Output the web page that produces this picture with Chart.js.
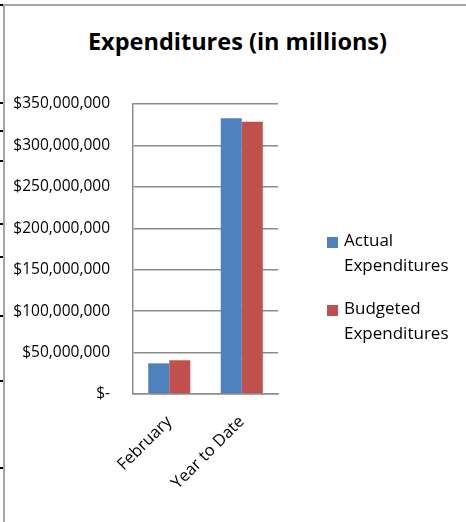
<!DOCTYPE html>
<html>
<head>
<meta charset="utf-8">
<script src="https://cdn.jsdelivr.net/npm/chart.js@4"></script>
<style>
  html, body { margin: 0; padding: 0; background: #fff; }
  #wrap { position: relative; width: 466px; height: 522px; overflow: hidden; font-family: "Open Sans", sans-serif; }
  #frame { position: absolute; left: 3px; top: 4px; width: 480px; height: 540px; border-left: 2px solid #a6a6a6; border-top: 2px solid #a6a6a6; }
  .mark { position: absolute; left: 0; width: 3px; height: 2px; background: #000; }
  #title { position: absolute; left: 0; width: 475px; top: 29px; text-align: center; font-weight: bold; font-size: 23.5px; line-height: 24px; color: #000; }
  canvas { position: absolute; left: 0; top: 0; }
  .sw { position: absolute; left: 327px; width: 11px; height: 11px; }
  .lg { position: absolute; left: 344px; font-size: 17px; line-height: 24.5px; color: #000; }
</style>
</head>
<body>
<div id="wrap">
  <div id="frame"></div>
  <div id="marks"></div>
  <div id="title">Expenditures (in millions)</div>
  <canvas id="chart" width="466" height="522"></canvas>
  <div id="legend"></div>
</div>
<script>
// chart data
const categories = ['February', 'Year to Date'];
const seriesNames = [['Actual', 'Expenditures'], ['Budgeted', 'Expenditures']];
const actual = [37000000, 332700000];
const budgeted = [40700000, 328600000];
const colors = ['#4F81BD', '#C0504D'];

// little row marks on the sheet edge
const markRows = [4, 102, 130, 160, 223, 256, 315, 380, 467];
markRows.forEach(y => {
    const m = document.createElement('div');
    m.className = 'mark';
    m.style.top = y + 'px';
    document.getElementById('marks').appendChild(m);
});

// legend as html (two lines per entry)
const legend = document.getElementById('legend');
const legendTops = [228, 296];
seriesNames.forEach((name, i) => {
    const sw = document.createElement('div');
    sw.className = 'sw';
    sw.style.top = (legendTops[i] + 9) + 'px';
    sw.style.background = colors[i];
    legend.appendChild(sw);
    const txt = document.createElement('div');
    txt.className = 'lg';
    txt.style.top = legendTops[i] + 'px';
    txt.innerHTML = name.join('<br>');
    legend.appendChild(txt);
});

function money(v) {
    if (v === 0) return '$-';
    return '$' + v.toLocaleString('en-US');
}

const ctx = document.getElementById('chart').getContext('2d');
new Chart(ctx, {
    type: 'bar',
    data: {
        labels: categories,
        datasets: [
            { label: seriesNames[0].join(' '), data: actual, backgroundColor: colors[0], borderWidth: 0 },
            { label: seriesNames[1].join(' '), data: budgeted, backgroundColor: colors[1], borderWidth: 0 }
        ]
    },
    options: {
        responsive: false,
        animation: false,
        devicePixelRatio: 1,
        layout: { padding: { left: 0, top: 104, right: 188, bottom: 0 } },
        plugins: {
            legend: { display: false },
            title: { display: false },
            tooltip: { enabled: false }
        },
        datasets: {
            bar: { categoryPercentage: 0.58, barPercentage: 1 }
        },
        scales: {
            x: {
                grid: { display: false, drawTicks: false },
                border: { display: true, color: '#8c8c8c', width: 1.5 },
                ticks: {
                    color: '#000',
                    font: { family: 'Open Sans', size: 16.5 },
                    maxRotation: 45,
                    minRotation: 45,
                    padding: 18
                },
                afterFit: (scale) => { scale.height = 128; }
            },
            y: {
                min: 0,
                max: 350000000,
                grid: { color: '#8c8c8c', lineWidth: 1.5, drawTicks: false },
                border: { display: true, color: '#8c8c8c', width: 1.5 },
                ticks: {
                    stepSize: 50000000,
                    color: '#000',
                    font: { family: 'Open Sans', size: 15.5 },
                    padding: 23,
                    callback: (v) => money(v)
                },
                afterFit: (scale) => { scale.width = 133; }
            }
        }
    }
});
</script>
</body>
</html>
